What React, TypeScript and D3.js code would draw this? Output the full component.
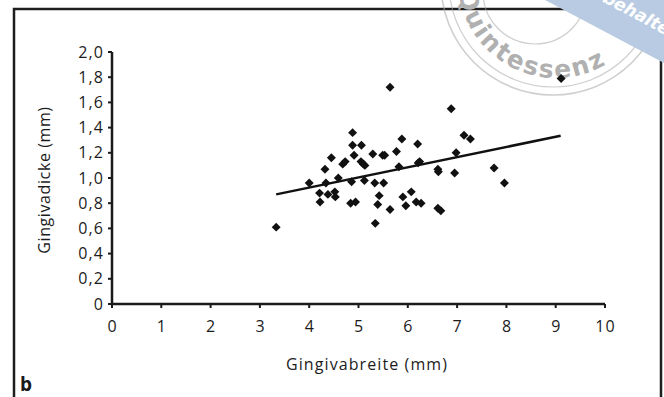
import React from "react";
import * as d3 from "d3";

const widthMm = [3.33, 4.0, 4.21, 4.22, 4.32, 4.34, 4.38, 4.45, 4.52, 4.53, 4.59, 4.68, 4.73, 4.86, 4.88, 4.88, 4.91, 4.84, 4.94, 5.06, 5.05, 5.1, 5.13, 5.12, 5.29, 5.33, 5.34, 5.39, 5.42, 5.49, 5.53, 5.51, 5.64, 5.64, 5.77, 5.82, 5.88, 5.9, 5.96, 6.07, 6.17, 6.2, 6.21, 6.24, 6.27, 6.61, 6.62, 6.61, 6.67, 6.88, 6.95, 6.98, 7.14, 7.27, 7.75, 7.96, 9.11];
const thicknessMm = [0.61, 0.96, 0.88, 0.81, 1.07, 0.96, 0.87, 1.16, 0.89, 0.85, 1.0, 1.11, 1.13, 0.97, 1.36, 1.26, 1.18, 0.8, 0.81, 1.26, 1.13, 1.11, 1.1, 0.98, 1.19, 0.96, 0.64, 0.79, 0.86, 1.18, 1.18, 0.96, 1.72, 0.75, 1.21, 1.09, 1.31, 0.85, 0.78, 0.89, 0.81, 1.27, 1.12, 1.13, 0.8, 1.07, 1.05, 0.76, 0.74, 1.55, 1.04, 1.2, 1.34, 1.31, 1.08, 0.96, 1.79];
const trendX = [3.33, 9.1];
const trendY = [0.87, 1.335];
const xTicks = [0, 1, 2, 3, 4, 5, 6, 7, 8, 9, 10];
const yTicks = [0, 0.2, 0.4, 0.6, 0.8, 1.0, 1.2, 1.4, 1.6, 1.8, 2.0];
const xTitle = "Gingivabreite (mm)";
const yTitle = "Gingivadicke (mm)";
const panelLabel = "b";

const W = 664;
const H = 397;
const FONT = "'Open Sans', 'Lato', sans-serif";

export default function App() {
  const x = d3.scaleLinear().domain([0, 10]).range([112, 605]);
  const y = d3.scaleLinear().domain([0, 2]).range([304, 52]);
  const diamond = d3.symbol(d3.symbolSquare, 40)()!;
  const line = d3
    .line<number>()
    .x((_, i) => x(trendX[i]))
    .y((d) => y(d));
  const fmtY = (v: number) => (v === 0 ? "0" : v.toFixed(1).replace(".", ","));

  // watermark geometry
  const wc = { x: 556, y: -20 };
  const tr = 98;
  const textArc = `M ${wc.x - tr} ${wc.y} A ${tr} ${tr} 0 0 0 ${wc.x + tr} ${wc.y}`;

  return (
    <svg
      width={W}
      height={H}
      style={{ position: "absolute", left: 0, top: 0, background: "#fff" }}
      fontFamily={FONT}
    >
      <defs>
        <path id="wmArc" d={textArc} />
      </defs>
      {/* frame */}
      <rect x={14} y={9} width={647} height={H + 20} fill="none" stroke="#1e1e1e" strokeWidth={2.5} />

      {/* watermark */}
      <g opacity={0.55} fill="none" stroke="#a8a8a8">
        <circle cx={553} cy={-17} r={112} strokeWidth={1.6} />
        <circle cx={553} cy={-17} r={104} strokeWidth={1.2} />
        <circle cx={535} cy={-8} r={52} strokeWidth={1.2} />
      </g>
      <text
        fontSize={25}
        fontWeight={700}
        fill="#b0b0b0"
        fontFamily="'DejaVu Sans', sans-serif"
      >
        <textPath href="#wmArc" startOffset={12} textLength={194} lengthAdjust="spacing">
          Quintessenz
        </textPath>
      </text>
      <polygon points="545,0 664,0 664,63" fill="#b9cbe2" />
      <text
        transform="translate(592,-4) rotate(28)"
        fontSize={17}
        fontWeight={700}
        fontStyle="italic"
        fill="#ffffff"
        fontFamily="'DejaVu Sans', sans-serif"
      >
        vbehalten
      </text>

      {/* axes */}
      <g stroke="#1a1a1a" strokeWidth={2.5}>
        <line x1={x(0)} x2={x(0)} y1={y(2)} y2={y(0) + 1} />
        <line x1={x(0) - 1} x2={x(10)} y1={y(0)} y2={y(0)} />
      </g>
      <g stroke="#1a1a1a" strokeWidth={2}>
        {yTicks.map((t) => (
          <line key={"yt" + t} x1={x(0) - 4} x2={x(0)} y1={y(t)} y2={y(t)} />
        ))}
        {xTicks.map((t) => (
          <line key={"xt" + t} x1={x(t)} x2={x(t)} y1={y(0)} y2={y(0) + 4} />
        ))}
      </g>
      <g fontSize={16} fill="#1c1c1c" fontWeight={400} letterSpacing={1.1}>
        {yTicks.map((t) => (
          <text key={"yl" + t} x={x(0) - 8} y={y(t) + 5.5} textAnchor="end">
            {fmtY(t)}
          </text>
        ))}
        {xTicks.map((t) => (
          <text key={"xl" + t} x={x(t) + 0.6} y={332} textAnchor="middle">
            {t}
          </text>
        ))}
      </g>
      <text x={367} y={370} textAnchor="middle" fontSize={16} fill="#1c1c1c" fontWeight={400} letterSpacing={1.1}>
        {xTitle}
      </text>
      <text
        transform="translate(50,180) rotate(-90)"
        textAnchor="middle"
        fontSize={16}
        fill="#1c1c1c"
        fontWeight={400}
        letterSpacing={0.6}
      >
        {yTitle}
      </text>
      <text x={20} y={391} fontSize={19} fontWeight={700} fill="#1a1a1a">
        {panelLabel}
      </text>

      {/* trend line */}
      <path d={line(trendY) || ""} fill="none" stroke="#111" strokeWidth={2.5} />

      {/* points */}
      <g fill="#111">
        {widthMm.map((w, i) => (
          <path
            key={i}
            d={diamond}
            transform={`translate(${x(w)},${y(thicknessMm[i])}) rotate(45)`}
          />
        ))}
      </g>
    </svg>
  );
}
